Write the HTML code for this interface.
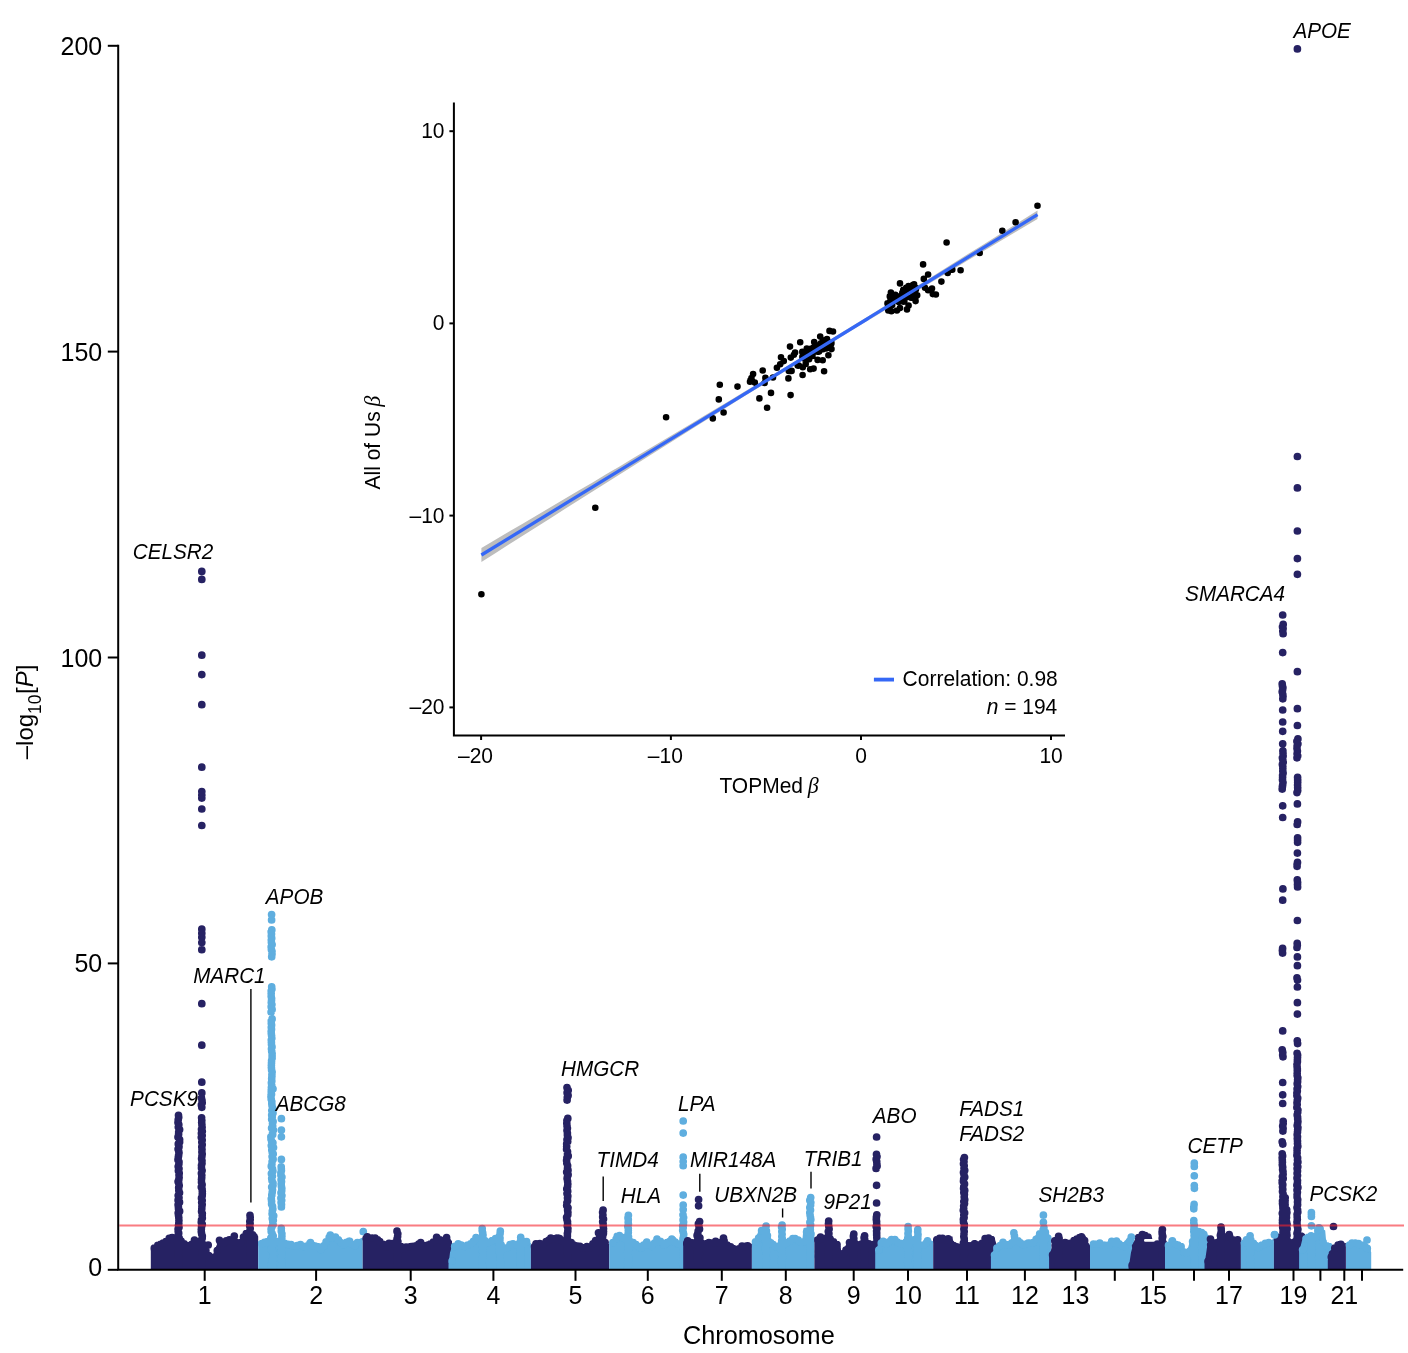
<!DOCTYPE html>
<html lang="en"><head><meta charset="utf-8"><title>Manhattan plot</title>
<style>html,body{margin:0;padding:0;background:#fff}svg{display:block}</style></head>
<body>
<svg width="1408" height="1353" viewBox="0 0 1408 1353" font-family="'Liberation Sans', Arial, Helvetica, sans-serif" fill="#000">
<rect width="1408" height="1353" fill="#fff"/>
<filter id="soft" filterUnits="userSpaceOnUse" x="0" y="0" width="1408" height="1353"><feGaussianBlur stdDeviation="0.4"/></filter>
<g filter="url(#soft)">
<clipPath id="mclip"><rect x="119" y="0" width="1289" height="1269.8"/></clipPath>
<g id="manhattan" clip-path="url(#mclip)">
<path fill="#272163" d="M150.8 1269.5L150.8 1249.7L157 1244L164.4 1240L172.4 1236.6L174.7 1236.4L183 1240.4L185.5 1242.9L191.1 1244L197 1243.4L206 1244.4L208.2 1250.8L212.2 1257.6L215.6 1247.4L219.5 1238.9L224.1 1241.2L229.8 1239.4L238.9 1242.9L241.7 1234.4L246.8 1233.2L253.6 1233.4L257 1233.8L258.2 1236.4L258.2 1269.5Z"/>
<path fill="none" stroke="#272163" stroke-width="7.7" stroke-linecap="round" d="M219.5 1240.3h0M229.8 1240.8h0M154.3 1248.2h0M157.8 1245.3h0M160.6 1244.3h0M163.1 1243h0M165.9 1241.6h0M169.2 1238.4h0M172.1 1237.7h0M174.4 1239.3h0M177.5 1240h0M181.1 1241.2h0M184.2 1243.8h0M187.3 1245.5h0M189.5 1245.9h0M191.8 1244.3h0M194.3 1244.6h0M197.3 1245.2h0M199.9 1246h0M203.3 1246.4h0M205.9 1250.7h0M208.8 1255.6h0M211.1 1258.5h0M213.7 1257.4h0M217.3 1250.7h0M220.4 1242.3h0M223.7 1243.2h0M226.3 1240.8h0M229.3 1239.9h0M232.1 1241.7h0M234.8 1241.7h0M238.2 1243h0M240.7 1242.5h0M243.5 1237.2h0M246.3 1233.7h0M249.3 1234.2h0M252.6 1234.8h0M178.5 1115.3h0M178.7 1117.2h0M178.2 1119.9h0M178 1122.4h0M178.8 1124.7h0M178.3 1127.1h0M179.6 1129.5h0M178.7 1132h0M178.6 1134.2h0M178 1137h0M179.6 1139.7h0M179.6 1142.1h0M178.3 1143.9h0M179 1146.7h0M178.1 1149h0M178.7 1151h0M179 1152.8h0M178.6 1155.4h0M178.3 1157.3h0M178 1159.7h0M179 1161.9h0M178.9 1163.8h0M178.2 1166.5h0M179 1168.7h0M178.4 1170.8h0M179.2 1173.2h0M179 1175.1h0M179.1 1177.5h0M178.8 1179.7h0M178.1 1181.6h0M178.8 1183.5h0M179.2 1185.5h0M178.7 1187.7h0M178.8 1190.4h0M179.5 1192.7h0M178.2 1195.5h0M179 1197.8h0M178.1 1200.2h0M179.5 1202.2h0M178.1 1204.8h0M178.4 1207h0M178.5 1208.8h0M179.6 1211.2h0M178.2 1213.1h0M178.5 1215.3h0M178.8 1217.8h0M178.9 1220.6h0M178.8 1223.3h0M178.5 1225.5h0M179 1227.3h0M178.1 1229.2h0M178.2 1231.3h0M178.7 1233.2h0M178.1 1235.3h0M179.2 1238.1h0M179.5 1240h0M178.1 1242.1h0M178.1 1244.4h0M179.5 1247.1h0M178.8 1248.9h0M179.1 1250.7h0M178 1252.9h0M178.1 1254.8h0M178.4 1256.7h0M178.5 1258.9h0M179.1 1261.6h0M178.7 1263.9h0M178.8 1266.2h0M178.5 1268.5h0M178 1270.4h0M201.8 571.4h0M201.8 579.4h0M201.8 655.2h0M201.8 674.6h0M201.8 704.7h0M201.8 767.2h0M201.8 791.5h0M201.8 795h0M201.8 798.1h0M201.8 809h0M201.8 825.5h0M201.8 929.2h0M201.8 933.2h0M201.8 937.2h0M201.8 942.5h0M201.8 949.7h0M201.8 1003.7h0M201.8 1045.2h0M201.8 1082.2h0M201.8 1092.9h0M201.4 1097.8h0M202 1100.4h0M202.2 1102.7h0M201.4 1104.9h0M201.8 1107.3h0M201.6 1117.8h0M201.8 1120.6h0M201.7 1122.6h0M201.9 1124.7h0M202.1 1127.3h0M201.5 1129.3h0M202.3 1131.3h0M201.4 1133.3h0M202.2 1135.5h0M201.3 1137.3h0M202.2 1140.1h0M201.8 1142h0M202.2 1144.7h0M201.8 1146.9h0M202 1149.4h0M201.9 1152h0M202.2 1154.1h0M201.9 1156.2h0M201.6 1158.7h0M202 1160.8h0M202 1163.2h0M201.5 1165.4h0M201.5 1168h0M202.1 1170.6h0M201.4 1173.3h0M201.8 1175.3h0M201.7 1177.7h0M201.5 1179.6h0M201.5 1182.2h0M202.1 1184.7h0M201.3 1187h0M202.1 1189.1h0M202.3 1191.4h0M202.3 1193.7h0M202.2 1195.7h0M201.5 1198.2h0M202.2 1200.4h0M201.7 1202.6h0M202.2 1204.6h0M201.9 1206.4h0M201.8 1208.8h0M201.6 1211.4h0M202.3 1213.6h0M202.2 1215.5h0M202.3 1218.1h0M201.5 1220h0M201.3 1222.2h0M202.3 1224.3h0M201.5 1227h0M201.3 1229.5h0M201.3 1231.8h0M201.7 1234h0M202.3 1236.1h0M202.2 1238.1h0M201.3 1240.3h0M202 1242.6h0M201.8 1245.4h0M202.2 1248.2h0M202 1250.5h0M202.2 1252.7h0M202 1255.1h0M201.7 1257.7h0M202.2 1260h0M201.4 1262.4h0M202.2 1264.7h0M202 1266.7h0M202.2 1269.5h0M250 1215.3h0M250.2 1217.3h0M250.2 1219.4h0M249.8 1221.6h0M250.1 1223.4h0M249.7 1225.7h0M250.2 1228.4h0M249.8 1231.2h0M249.8 1233.1h0M250.2 1235.8h0M250.5 1238.6h0M249.9 1240.8h0M250 1243.1h0M250.7 1245.8h0M250.2 1248.5h0M250.1 1250.4h0M249.9 1252.2h0M250.7 1254.7h0M249.8 1256.6h0M250 1258.4h0M249.9 1260.9h0M250.2 1263.2h0M250.6 1265.6h0M250.4 1268h0M250.6 1270.5h0M194.5 1240h0M208.2 1245h0M234.3 1236h0"/>
<path fill="#5eaedf" d="M258.2 1269.5L258.2 1241.2L260.5 1241.2L267.3 1239.4L276 1239.4L287.7 1242.9L290 1242.9L294.5 1245.7L300.2 1243.4L304.8 1245.7L310.5 1241.2L316.1 1245.1L320.7 1247.4L324.1 1241.2L330.3 1233.8L337.2 1237.2L343.4 1242.9L349.7 1240L353.6 1244.6L358.2 1239.4L362.7 1237.4L362.7 1269.5Z"/>
<path fill="none" stroke="#5eaedf" stroke-width="7.7" stroke-linecap="round" d="M300.2 1244.8h0M310.5 1242.6h0M330.3 1235.2h0M349.7 1241.4h0M261.8 1243.7h0M264.5 1242.4h0M267.6 1241.6h0M270.1 1242.2h0M273 1240.3h0M276 1241.6h0M279 1241.3h0M281.5 1243.9h0M284.6 1243.4h0M288.1 1244.3h0M291.1 1244.6h0M293.6 1246.1h0M297.1 1245.6h0M300.5 1244.5h0M303.7 1246.6h0M306.5 1246.1h0M309.9 1243.4h0M312.8 1245.6h0M315.2 1246.2h0M318.3 1246.8h0M320.6 1249.6h0M323.8 1245.9h0M326.1 1241.8h0M329.2 1237.4h0M332.1 1237.5h0M335.5 1237.1h0M338.4 1239.8h0M340.6 1242.6h0M343.7 1245h0M346.5 1242.4h0M349 1241.4h0M351.4 1244h0M355 1245.8h0M357.4 1242.5h0M271.6 914.6h0M271.6 919.9h0M271.8 929.9h0M271.2 931.7h0M271.5 933.9h0M271.3 936.1h0M271.7 938.2h0M271.3 940.1h0M271.4 942.3h0M272.1 944.5h0M271.2 946.9h0M271.4 949.5h0M272 951.3h0M272 954h0M271.7 956.8h0M271.7 986.9h0M271.9 989h0M271.2 991.1h0M271.2 993.6h0M271.2 996.3h0M271.6 998.5h0M271.5 1000.6h0M271.3 1002.6h0M271.9 1004.6h0M271.2 1006.7h0M272.1 1009.4h0M271.1 1012.1h0M272.1 1018.9h0M271.3 1020.9h0M271.3 1023.2h0M271.6 1025h0M271.3 1027.3h0M271.5 1029.2h0M271.2 1031.6h0M271.3 1033.5h0M271.6 1035.8h0M271.8 1038.3h0M271.3 1040.1h0M271.4 1042.2h0M271.5 1044.6h0M272 1046.9h0M271.5 1048.8h0M271.7 1051.2h0M272.1 1053.7h0M272.1 1055.9h0M272.1 1058.1h0M271.6 1060.7h0M271.5 1063.1h0M271.4 1065.4h0M271.4 1067.6h0M271.6 1069.9h0M272.1 1072h0M271.9 1074.5h0M271.9 1076.3h0M271.7 1078.7h0M271.8 1080.9h0M271.4 1082.8h0M271.7 1085h0M271.4 1087.5h0M271.3 1090.1h0M271.3 1092.6h0M271.1 1095.1h0M273 1088.8h0M271.3 1091.6h0M271.5 1094.3h0M271 1096.8h0M271.2 1099h0M271.8 1101.7h0M271.8 1103.7h0M272 1105.6h0M272.6 1108h0M271.8 1110.5h0M273 1113h0M271.7 1115h0M272.2 1116.9h0M271.7 1119.2h0M273.1 1121.5h0M272.5 1123.6h0M272.7 1126.1h0M271.6 1128.1h0M273.4 1130.1h0M272.6 1132.4h0M272.7 1134.4h0M270.9 1136.9h0M271 1138.9h0M271.5 1140.8h0M272.9 1142.8h0M271.3 1145.5h0M273.5 1147.6h0M271.8 1149.9h0M272.2 1152h0M273.2 1153.9h0M272.1 1156.5h0M273.1 1159.2h0M272.1 1161.7h0M271.9 1164.3h0M271.3 1166.2h0M272.5 1168.9h0M272.9 1171h0M271.4 1173.6h0M272.4 1176h0M271.7 1178.3h0M272 1180.6h0M273 1183h0M273 1185.3h0M271.7 1187.1h0M272.5 1189.8h0M272.2 1192.3h0M271.8 1194.9h0M271.3 1198.8h0M271.6 1201.3h0M271.6 1204h0M272.5 1206.3h0M272.8 1209h0M272.3 1211h0M272.1 1213.8h0M273.7 1215.8h0M272.3 1218.4h0M273.3 1220.3h0M272.8 1222.1h0M273.1 1224.5h0M271.8 1227h0M271.1 1229.2h0M271.2 1231.6h0M272.1 1233.5h0M273.2 1236.1h0M270.8 1238.2h0M271.5 1240.1h0M273.3 1241.9h0M272.5 1244.2h0M272.3 1246.3h0M271.5 1248.4h0M271.6 1250.3h0M272.7 1252.1h0M273.2 1254h0M272.9 1256.3h0M273.5 1258.5h0M272.1 1260.7h0M273.2 1262.8h0M271 1265h0M273.2 1267.3h0M272.6 1269.1h0M273 1271h0M281.4 1118.7h0M281.4 1130.1h0M281.4 1136.8h0M281.4 1159.4h0M281.2 1166.8h0M281.3 1168.7h0M281.4 1170.5h0M280.9 1172.9h0M280.9 1175h0M281.9 1177h0M281.1 1179.7h0M281.5 1181.6h0M281.2 1184.1h0M281.4 1186.3h0M281.8 1188.4h0M281.7 1190.7h0M281 1192.8h0M281.9 1195.5h0M280.9 1198h0M281.7 1200.3h0M281.1 1202.4h0M281.5 1204.6h0M281.4 1207h0M281.3 1228.3h0M281.3 1231h0M281.9 1233.8h0M281.9 1236.2h0M281.8 1238.5h0M281.3 1240.8h0M281.6 1243.6h0M281 1246.1h0M281.3 1248.8h0M281 1250.8h0M281.9 1253.4h0M281.7 1256h0M280.9 1258.6h0M281.8 1261.3h0M281.8 1264h0M281.1 1266.3h0M281.8 1268.5h0M281.7 1270.7h0M363.3 1231.7h0"/>
<path fill="#272163" d="M362.7 1269.5L362.7 1238.4L367.3 1235.4L375.2 1237.2L380.9 1241.2L385.5 1245.1L390 1241.2L394 1240.6L401.9 1246.3L409.3 1244.6L415 1245.1L420.7 1241.2L426.4 1245.1L430.9 1241.7L436.6 1236L441.1 1240L446.8 1236.6L448.5 1236.6L452 1241.2L452 1269.5Z"/>
<path fill="none" stroke="#272163" stroke-width="7.7" stroke-linecap="round" d="M367.3 1236.8h0M420.7 1242.6h0M436.6 1237.4h0M366.2 1238.3h0M368.6 1238.6h0M372.2 1238h0M375.1 1238.1h0M377.6 1239.8h0M379.8 1241.5h0M383.1 1244.4h0M385.8 1247.1h0M389 1243.4h0M392.5 1243.7h0M395.3 1244.4h0M398.3 1246h0M401 1246.6h0M403.7 1248.7h0M406.1 1247.1h0M408.6 1247h0M411.3 1246.5h0M413.8 1246.4h0M416.4 1245.9h0M418.7 1244h0M422.3 1245.1h0M425.5 1245.9h0M427.8 1245h0M430.2 1244h0M433.3 1242.1h0M436.9 1237.7h0M440 1239.9h0M443.4 1241.5h0M446.6 1237.7h0M397 1231.2h0M397.8 1233.8h0M397.6 1236.5h0M397 1239.2h0M397.9 1241.6h0M397.9 1244.1h0M397.5 1246.7h0M397.1 1248.6h0M397 1250.8h0M397.2 1252.9h0M397.6 1255.1h0M397.3 1257.4h0M397.5 1259.3h0M397.5 1261.2h0M397.1 1263.2h0M397.4 1265h0M397 1267.5h0M397.9 1269.4h0"/>
<path fill="#5eaedf" d="M448.5 1269.5L448.5 1264.4L450 1252.4L453.1 1242.9L458.2 1242.9L463.3 1245.1L468.4 1242.9L476.4 1236L478.6 1235.4L486.6 1240.4L487.7 1241.2L494.5 1238.3L496.8 1238.3L503 1244.4L505.3 1246.8L510.5 1243.4L517.3 1242.3L524 1241.4L526.4 1241.2L530.9 1242.9L530.9 1269.5Z"/>
<path fill="none" stroke="#5eaedf" stroke-width="7.7" stroke-linecap="round" d="M452.1 1261.1h0M454.7 1246.4h0M458.2 1243.9h0M461.3 1245.2h0M464.7 1246.3h0M467.6 1245h0M470.6 1243.8h0M473.4 1241.4h0M476 1237.7h0M479.2 1238h0M482.1 1239h0M484.8 1240.7h0M487.4 1242.7h0M489.7 1242h0M492.2 1240.7h0M495.5 1238.7h0M498.6 1241.7h0M501.1 1244.8h0M504.6 1248.3h0M507.1 1247.8h0M510 1244.7h0M513 1243.9h0M516.6 1244.7h0M520.2 1244.8h0M523.6 1242.4h0M526.6 1241.7h0M482.2 1228.6h0M482.2 1230.5h0M482.7 1232.9h0M483 1235h0M482.5 1237.2h0M483 1239.1h0M482.9 1241.1h0M482.6 1243.4h0M482.2 1245.8h0M483 1248.5h0M482.6 1251.1h0M482.9 1253h0M482.9 1255.1h0M482.6 1257.1h0M482.2 1259.8h0M482 1262.1h0M482.1 1264h0M483 1266.7h0M482.3 1269.2h0M500.3 1231.2h0M500.1 1233.4h0M499.5 1236h0M500 1238h0M499.9 1240h0M499.6 1242.3h0M499.7 1244.7h0M499.8 1247h0M499.5 1249.5h0M499.6 1251.9h0M500.1 1254.7h0M499.9 1257h0M500.2 1259.4h0M500.3 1262h0M500.5 1264.2h0M500.4 1266.9h0M499.9 1269.1h0M500.4 1271.5h0M520.7 1237.4h0M521.1 1239.7h0M520.2 1241.8h0M521.1 1244.3h0M520.8 1246.9h0M520.5 1249.4h0M520.2 1251.8h0M520.6 1253.7h0M520.6 1256h0M520.9 1257.9h0M520.4 1260.2h0M520.6 1262.3h0M520.2 1264.4h0M521.2 1267.1h0M521.1 1269.5h0"/>
<path fill="#272163" d="M530.9 1269.5L530.9 1247.4L532 1247.4L536 1242.3L542.3 1244L546.2 1239.4L550.8 1236.6L554.8 1238.3L559.3 1237.2L562.2 1239.4L573 1242.9L578.6 1245.1L584.3 1246.3L590 1245.1L594.5 1239.4L599 1238.4L607 1242.4L608.2 1244L609.3 1244L609.3 1269.5Z"/>
<path fill="none" stroke="#272163" stroke-width="7.7" stroke-linecap="round" d="M536 1243.8h0M550.8 1238h0M559.3 1238.6h0M599 1239.8h0M534.5 1246.6h0M537 1245.4h0M539.8 1243.7h0M543.2 1244h0M546.1 1241.7h0M548.5 1240.3h0M551.5 1238.7h0M553.7 1238.8h0M556.9 1238.1h0M559.6 1238.6h0M562.4 1241.2h0M565.8 1242.3h0M568.2 1244.2h0M571.2 1242.7h0M573.8 1245h0M577.3 1246h0M579.9 1246.3h0M583.4 1247.9h0M586.9 1246.7h0M589.5 1248.1h0M592.9 1243.9h0M595.6 1240.6h0M599 1239h0M601.5 1242.5h0M605.1 1242.5h0M567 1087.5h0M568.2 1090.3h0M567.1 1092.7h0M568.1 1095.4h0M567.3 1097.4h0M567.1 1100.1h0M567.8 1118.4h0M566.9 1120.7h0M566.8 1123.3h0M567 1125.8h0M567.4 1128.3h0M567 1130.4h0M567.4 1133h0M567.4 1135h0M568 1137.7h0M567 1139.7h0M567.7 1141.6h0M566.7 1143.9h0M566.7 1146.6h0M566.6 1149.3h0M567.5 1151.7h0M567.5 1153.9h0M568.2 1155.9h0M566.9 1157.9h0M566.6 1160.4h0M566.8 1163h0M567.6 1165.7h0M567.5 1168.4h0M568 1170.2h0M566.7 1172.1h0M568.1 1174.7h0M567.4 1176.8h0M567.1 1178.6h0M567.6 1181.3h0M567.8 1184h0M567.6 1186.4h0M566.8 1188.9h0M567.7 1191.2h0M567 1193.5h0M567.8 1196h0M567.5 1198.1h0M567.6 1200.8h0M566.9 1202.8h0M566.7 1205.6h0M568 1207.8h0M567.6 1210h0M567.9 1212.4h0M567.8 1214.7h0M566.6 1217.3h0M566.9 1219.2h0M567.5 1221.7h0M567.6 1224.2h0M567.3 1226.1h0M567.9 1228.6h0M567.8 1231.1h0M567.4 1233.7h0M567.4 1236.1h0M567 1238.3h0M567.7 1240.6h0M567.3 1243h0M567.3 1245.1h0M567.7 1247.6h0M566.8 1250.3h0M567.6 1252.9h0M567.8 1254.8h0M568.2 1257.2h0M567.3 1259h0M566.7 1261.3h0M567.4 1263.6h0M568.2 1266.4h0M567.7 1268.9h0M603.1 1210.2h0M602.6 1212.3h0M602.9 1215h0M602.7 1216.9h0M603.5 1219h0M602.7 1221.7h0M603.1 1223.7h0M603.3 1226.5h0M603.5 1228.8h0M603.5 1231.5h0M603.4 1233.5h0M602.7 1236.2h0M602.5 1238.4h0M602.7 1240.6h0M603.3 1243.2h0M602.9 1245.5h0M603.3 1247.9h0M603 1250.2h0M602.6 1252.6h0M603 1254.9h0M602.5 1257.1h0M603.5 1259.2h0M603 1261.6h0M603 1264.1h0M603.2 1266.5h0M602.6 1268.5h0M603.3 1270.4h0M598.5 1232.8h0"/>
<path fill="#5eaedf" d="M609.3 1269.5L609.3 1243.4L611 1242.9L617.3 1234.9L622.4 1236L624 1236.4L632 1240.4L635.5 1242.9L640 1246.8L646.8 1240.6L651.9 1244L657 1237.7L663.9 1242.9L671.8 1237.7L677.5 1242.9L683.2 1242.4L683.2 1269.5Z"/>
<path fill="none" stroke="#5eaedf" stroke-width="7.7" stroke-linecap="round" d="M617.3 1236.3h0M646.8 1242h0M657 1239.1h0M671.8 1239.1h0M612.9 1242.6h0M616.1 1239.2h0M619.5 1235.7h0M621.7 1237.3h0M625.1 1238.7h0M627.4 1239.9h0M630.1 1241.7h0M633.2 1242.7h0M636 1244.7h0M638.8 1246.7h0M641.3 1247.9h0M643.6 1245h0M646.3 1242.8h0M649.1 1245h0M651.5 1246.6h0M654.5 1243.1h0M657.7 1241.1h0M660.4 1241.4h0M663.8 1245.1h0M667 1242.6h0M669.4 1241.5h0M672.8 1240.1h0M675.2 1242.2h0M677.8 1243.8h0M628.4 1215.3h0M628 1217.9h0M628.3 1219.7h0M628.2 1222.3h0M628.4 1224.1h0M627.8 1226.5h0M628.3 1228.4h0M628.3 1230.6h0M628.3 1232.6h0M628 1234.6h0M628.5 1236.8h0M628.2 1238.9h0M628.5 1240.9h0M628.3 1243h0M628.2 1245.1h0M628.3 1247.4h0M628.3 1250.1h0M627.7 1252.4h0M627.8 1255.1h0M628.4 1257.8h0M628.5 1259.7h0M627.7 1262.4h0M628.4 1264.6h0M628.2 1266.7h0M627.5 1269.4h0M627.8 1271.2h0M683.2 1121h0M683.2 1133.1h0M683.2 1157.2h0M683.2 1161.5h0M683.2 1165.7h0M683.2 1195.1h0M683.2 1205h0M683.2 1209.4h0M683 1214.8h0M683.6 1217.5h0M683.1 1219.9h0M683.6 1222h0M683.4 1223.9h0M682.7 1225.9h0M683.2 1227.7h0M682.7 1230.2h0M683.2 1232h0M683.7 1234.3h0M683.5 1236.5h0M683 1238.9h0M683.2 1241.2h0M683.3 1243.1h0M682.9 1245.1h0M683.2 1247.1h0M683.7 1249.9h0M683.3 1251.7h0M683.5 1254.3h0M683.6 1256.2h0M683.4 1258.9h0M682.9 1261.5h0M682.7 1263.4h0M682.9 1266h0M682.8 1268.2h0M682.8 1270.2h0"/>
<path fill="#272163" d="M683.2 1269.5L683.2 1242.9L684.3 1242.9L687.7 1239.4L692.3 1241.2L694 1240.9L703 1241.4L707 1241.7L711.6 1242.9L715.6 1240L719.5 1241.7L723.5 1236.6L729.8 1246.3L735.5 1247.4L742.3 1244.6L749.1 1245.1L751.9 1243.4L751.9 1269.5Z"/>
<path fill="none" stroke="#272163" stroke-width="7.7" stroke-linecap="round" d="M687.7 1240.8h0M715.6 1241.4h0M723.5 1238h0M686.8 1243.2h0M689.6 1242.4h0M692.2 1242.9h0M694.8 1243.8h0M698 1242.9h0M700.5 1242.2h0M703.2 1244.3h0M705.7 1243.9h0M708.9 1242.5h0M712.5 1242.9h0M715.9 1241.6h0M718.3 1242.9h0M721.2 1242.4h0M724.1 1240.8h0M727.1 1245.2h0M730.6 1246.8h0M733.2 1248.7h0M736.2 1250h0M738.9 1248.8h0M742 1246.2h0M745.2 1246.3h0M747.7 1245.9h0M698.6 1199.5h0M698.6 1205.8h0M699.6 1221.5h0M698.4 1223.9h0M699 1226.4h0M699.5 1229.1h0M698.2 1231h0M697.8 1233.4h0M697.1 1235.4h0M699.9 1237.8h0M697.5 1240.6h0M698.4 1243.1h0M698.3 1245.5h0M700.1 1248.2h0M699.2 1250.1h0M697.2 1252h0M699.3 1254.1h0M697.5 1256.9h0M697.2 1259h0M698.5 1261.4h0M698 1263.5h0M699.6 1266.1h0M698.3 1268.2h0M699.4 1270.6h0"/>
<path fill="#5eaedf" d="M751.9 1269.5L751.9 1243.4L754.8 1241.2L758.2 1231.5L762.7 1229.2L770.7 1237.2L774.1 1244.6L777.5 1245.7L786 1242.4L787.7 1241.2L793.4 1237.2L799.1 1236.6L802 1242.9L803.6 1228.1L806.5 1227.4L814.4 1232.4L814.4 1269.5Z"/>
<path fill="none" stroke="#5eaedf" stroke-width="7.7" stroke-linecap="round" d="M762.7 1230.6h0M755.5 1241.8h0M758.6 1238.1h0M761.6 1230.7h0M764.4 1232.6h0M767.4 1235.6h0M770.8 1242.8h0M773.2 1244.6h0M776.6 1246.9h0M779.6 1245.8h0M782.2 1245.6h0M784.8 1243.8h0M787.1 1242.6h0M789.8 1241.2h0M792.8 1238.6h0M795.1 1238.5h0M798.2 1240.1h0M800.6 1242.1h0M803 1242.2h0M806.6 1232h0M809.5 1231.1h0M766.1 1226.1h0M765.7 1228.5h0M766.4 1230.9h0M765.7 1233h0M765.7 1235.1h0M766.1 1237.7h0M765.5 1240.4h0M766.5 1243.1h0M766.2 1245.4h0M765.5 1247.5h0M765.5 1249.8h0M766.4 1252.1h0M765.9 1254h0M765.7 1256.5h0M766.5 1258.6h0M765.8 1260.9h0M766.2 1263.2h0M766.3 1265.8h0M766 1268.5h0M765.9 1271.2h0M782.1 1225.2h0M781.6 1227.1h0M782.2 1229.2h0M781.8 1231.5h0M782.1 1234.3h0M781.8 1236.5h0M782.2 1238.4h0M781.7 1240.8h0M781.6 1242.8h0M781.6 1244.7h0M781.7 1246.8h0M781.6 1248.9h0M781.7 1251.1h0M781.9 1252.9h0M781.6 1254.8h0M782.4 1257.5h0M781.5 1260.1h0M781.5 1262h0M782.1 1264.4h0M782 1266.5h0M782 1269.3h0M810.7 1197.6h0M809.8 1200.3h0M810.8 1202.5h0M810.6 1205.1h0M809.8 1207.5h0M810.5 1210h0M809.8 1212.7h0M810.1 1215.1h0M810.5 1217.4h0M810.8 1219.6h0M809.9 1222.3h0M810.6 1224.8h0M810.3 1227.1h0M810.3 1229.7h0M810.3 1231.9h0M810.8 1233.7h0M810.2 1236.1h0M809.8 1238.1h0M810.1 1240h0M810.1 1242.3h0M810.4 1244.4h0M810.3 1246.4h0M809.8 1248.7h0M810.6 1251.5h0M809.9 1254.2h0M810.8 1256.2h0M809.9 1258.8h0M809.9 1260.7h0M810 1262.7h0M809.8 1264.7h0M810.3 1266.9h0M810 1269h0M810.2 1270.8h0"/>
<path fill="#272163" d="M814.4 1269.5L814.4 1237.2L816.1 1237.2L824.1 1236.6L832.6 1239.4L836.6 1240.6L840.6 1246.3L841.7 1254.2L844.5 1247.4L848 1241.2L850 1240.4L857.5 1242.4L859.3 1242.9L861 1242.4L868 1240.9L869.5 1241.2L875.2 1240.4L875.2 1269.5Z"/>
<path fill="none" stroke="#272163" stroke-width="7.7" stroke-linecap="round" d="M818 1239.9h0M820.5 1237.2h0M823.5 1238.4h0M826.9 1237.9h0M830.2 1239h0M833.5 1241.9h0M837 1244.7h0M840.4 1253.8h0M843.7 1253.6h0M846 1250h0M849.5 1242.6h0M852.9 1241.5h0M855.7 1244.2h0M858.4 1245.5h0M861.5 1244h0M863.8 1244.6h0M866.3 1244.1h0M868.9 1243.9h0M828.7 1221h0M828.5 1223.8h0M828.8 1226.5h0M829.1 1229.1h0M828.3 1231.6h0M828.9 1233.6h0M828.7 1235.5h0M828.4 1237.4h0M828.4 1239.4h0M828.4 1241.9h0M828.1 1243.7h0M828.8 1245.7h0M828.9 1248.4h0M828.1 1250.4h0M828.5 1252.4h0M828.4 1254.8h0M828.2 1256.8h0M828.6 1258.7h0M828.6 1260.9h0M828.2 1262.8h0M829.1 1265.5h0M828.8 1267.3h0M828.6 1269.4h0M828.5 1271.4h0M853.8 1234h0M853.4 1236.2h0M853.8 1238.6h0M853.8 1240.7h0M853.7 1242.5h0M853.5 1244.3h0M854 1246.7h0M853.4 1248.9h0M854 1250.8h0M853.2 1253.3h0M853.5 1255.8h0M853.9 1257.8h0M853.1 1259.6h0M853.8 1262h0M853.9 1264.8h0M853.8 1267.5h0M853.1 1269.4h0M853.6 1271.4h0M864.6 1235.8h0M864.1 1237.7h0M864.7 1239.5h0M864.1 1241.8h0M864 1244.1h0M864.9 1246h0M864.7 1248.4h0M864.4 1251.2h0M864.4 1253.5h0M864.4 1256.2h0M864.7 1258.1h0M864.9 1259.9h0M864.7 1262.4h0M864.6 1265.1h0M864.4 1267.8h0M864.3 1270.5h0M876.6 1137h0M876.6 1185.3h0M876.6 1203h0M876.5 1154.3h0M877 1156.5h0M876.2 1159.2h0M876.7 1161.4h0M876.9 1164.2h0M877.1 1166.1h0M876.1 1168.4h0M876.8 1214.8h0M876.4 1217.2h0M876.3 1219.3h0M876.6 1221.7h0M876.7 1224.5h0M876.2 1226.5h0M877 1228.4h0M876.6 1231h0M876.7 1233h0M876.7 1234.9h0M876.8 1237.7h0M877 1239.6h0M876.9 1241.6h0M876.9 1243.5h0M876.4 1245.7h0M876.5 1248.1h0M877.1 1250.4h0M876.9 1252.8h0M876.5 1255.4h0M876.3 1257.5h0M876.8 1259.8h0M877 1262h0M877.1 1264h0M876.2 1266.4h0M877.1 1269.2h0M876.7 1271.1h0"/>
<path fill="#5eaedf" d="M875.2 1269.5L875.2 1252.4L878 1244.4L883.2 1240L887.7 1241.2L892.3 1237.7L893.4 1237.7L899.1 1241.7L904.8 1241.2L913.9 1238.4L922.4 1245.1L927.5 1239.4L933.2 1241.2L933.2 1269.5Z"/>
<path fill="none" stroke="#5eaedf" stroke-width="7.7" stroke-linecap="round" d="M883.2 1241.4h0M913.9 1239.8h0M927.5 1240.8h0M878.8 1250h0M881.3 1243h0M883.6 1241.9h0M886.4 1243.7h0M889.2 1241.8h0M891.5 1239.7h0M894.9 1239.7h0M897.3 1242.2h0M900.3 1243.3h0M903.6 1244.1h0M906 1242.2h0M908.2 1241.6h0M911.1 1240.2h0M914 1240.8h0M916.9 1242h0M919.6 1245.2h0M923.2 1245h0M926.4 1242.8h0M908.1 1226.6h0M908.1 1229h0M908.3 1231.1h0M908 1233.5h0M908.2 1235.8h0M907.7 1238.4h0M907.9 1240.3h0M908.5 1242.4h0M908.6 1244.6h0M908 1246.8h0M907.7 1249.3h0M908.6 1252h0M908 1254.2h0M908.5 1256.8h0M907.7 1259.2h0M907.7 1261.8h0M908.3 1264.2h0M908.4 1267h0M908.7 1268.8h0M908.3 1271.3h0M917.8 1229.5h0M917.7 1231.8h0M918 1234.6h0M917.8 1236.4h0M917.8 1238.7h0M917.4 1240.8h0M917.1 1243.1h0M917.8 1245.2h0M917.1 1247.1h0M917.7 1249.7h0M917.1 1252.1h0M917.3 1254h0M917.6 1256.7h0M917.2 1259.5h0M917.5 1261.7h0M917.1 1264.3h0M917.5 1267h0M917.4 1268.8h0M917.7 1271h0"/>
<path fill="#272163" d="M933.2 1269.5L933.2 1242.4L934.9 1236.6L952.5 1236.6L953.6 1245.1L959.3 1245.1L969.5 1243.4L974.7 1242.3L979.8 1244L983.2 1237.7L987.7 1236.6L994 1236.6L996.8 1245.1L996.8 1269.5Z"/>
<path fill="none" stroke="#272163" stroke-width="7.7" stroke-linecap="round" d="M974.7 1243.8h0M936.8 1239.9h0M939.6 1238.3h0M942.5 1238.3h0M944.8 1239.5h0M948.2 1238.8h0M950.9 1243.9h0M953.6 1245.7h0M956.7 1246.8h0M959.7 1247.3h0M962.9 1246.3h0M965.9 1245.8h0M968.6 1245.8h0M971 1245.9h0M974.5 1243.8h0M976.9 1244.8h0M979.4 1245.3h0M982.1 1243.3h0M985.1 1238.7h0M988.6 1238h0M991.3 1239.5h0M964.4 1157.6h0M963.6 1159.5h0M964 1161.7h0M963.5 1163.8h0M964.2 1165.8h0M964 1168.3h0M964.7 1170.3h0M963.5 1172.4h0M964 1174.7h0M964.7 1177h0M963.7 1179.1h0M963.5 1181.2h0M964.5 1183.9h0M963.8 1186.5h0M963.6 1188.4h0M964.7 1190.4h0M963.8 1192.6h0M964.4 1194.5h0M964.2 1197.1h0M964.7 1199.7h0M963.8 1201.6h0M964.5 1203.6h0M963.7 1206.1h0M963.7 1208.4h0M963.3 1210.3h0M964.6 1212.9h0M963.8 1214.9h0M964.1 1217.5h0M963.4 1219.4h0M963.5 1222h0M964.3 1224.6h0M964.2 1227h0M963.9 1229.1h0M964.2 1231.6h0M964 1234h0M963.8 1236.5h0M964.2 1238.5h0M964.3 1240.6h0M963.4 1243.2h0M964.1 1245.6h0M964.3 1248.3h0M963.3 1250.4h0M964.6 1253.2h0M963.8 1255.1h0M963.5 1257.3h0M964.2 1260.1h0M963.9 1262h0M964.6 1263.9h0M964.7 1266.7h0M964.1 1269.4h0"/>
<path fill="#5eaedf" d="M990.9 1269.5L990.9 1257.4L994 1248.4L999.1 1244L1003.1 1241.2L1008.2 1245.1L1013.9 1231.5L1020.7 1241.7L1024.1 1244.6L1028.1 1241.7L1032 1242.9L1035.5 1234.9L1040 1231.5L1048 1231.5L1051.4 1240.6L1051.4 1269.5Z"/>
<path fill="none" stroke="#5eaedf" stroke-width="7.7" stroke-linecap="round" d="M1003.1 1242.6h0M1013.9 1232.9h0M1028.1 1243.1h0M994.5 1255h0M996.9 1248.1h0M1000.1 1245.6h0M1003 1242.3h0M1006.4 1244.7h0M1009.2 1245h0M1011.7 1243h0M1014.5 1236.2h0M1018.1 1240.8h0M1020.4 1242.8h0M1022.9 1244.6h0M1026.1 1244.2h0M1029.7 1243.1h0M1033.1 1242.7h0M1036.1 1239.3h0M1039.7 1233.9h0M1042.8 1233.7h0M1045.4 1232.4h0M1047.8 1238.1h0M1043.4 1215.2h0M1043.4 1222.3h0M1043.9 1227.8h0M1043.2 1229.8h0M1043.9 1231.9h0M1043 1234.1h0M1043.5 1236.1h0M1043.7 1238.7h0M1042.9 1241.2h0M1043.9 1243.3h0M1043.3 1245.4h0M1043.2 1247.4h0M1043.3 1249.4h0M1043.1 1252.1h0M1043.3 1254h0M1043.4 1256.5h0M1043.6 1258.6h0M1043.3 1261.4h0M1043.1 1263.4h0M1043.1 1265.6h0M1043.1 1268.3h0M1043.5 1270.8h0"/>
<path fill="#272163" d="M1049.1 1269.5L1049.1 1257.4L1051.4 1248.5L1054.8 1239.4L1062.5 1240.4L1064.4 1242.3L1070.7 1240.6L1076.4 1238.9L1081.5 1235.5L1086.6 1240.6L1090 1245.1L1090 1269.5Z"/>
<path fill="none" stroke="#272163" stroke-width="7.7" stroke-linecap="round" d="M1054.8 1240.8h0M1081.5 1236.9h0M1052.6 1254.9h0M1055.2 1245.5h0M1057.7 1240.7h0M1060 1242.3h0M1062.6 1243.4h0M1065.1 1242.5h0M1068.4 1243.5h0M1070.7 1243.4h0M1074 1240.6h0M1076.8 1239.1h0M1079.6 1237.7h0M1082.3 1238.1h0M1084.6 1240.7h0M1058.6 1236.3h0M1059.1 1238.3h0M1058.6 1240.9h0M1058.6 1243.5h0M1058.9 1245.5h0M1058.7 1248.1h0M1058.2 1250.7h0M1058.6 1253h0M1059.2 1254.9h0M1058.4 1256.8h0M1059.3 1259.5h0M1058.6 1262.2h0M1058.4 1265h0M1059.2 1267.5h0M1058.3 1269.5h0"/>
<path fill="#5eaedf" d="M1090 1269.5L1090 1244.4L1093.4 1241.2L1099.1 1241.2L1105.3 1245.1L1110.5 1241.2L1117.3 1240.6L1124.1 1244.6L1127.5 1242.9L1131.5 1235.5L1134 1240.4L1134 1269.5Z"/>
<path fill="none" stroke="#5eaedf" stroke-width="7.7" stroke-linecap="round" d="M1093.5 1244h0M1097 1244h0M1099.8 1243.1h0M1103 1245.1h0M1105.4 1245.3h0M1109 1245.1h0M1111.7 1241.4h0M1114.1 1242.3h0M1116.5 1241h0M1119.1 1243.9h0M1122.1 1245.7h0M1124.9 1246.5h0M1127.5 1243.5h0M1129.8 1242.3h0"/>
<path fill="#272163" d="M1128.6 1269.5L1128.6 1268.4L1131 1252.4L1134.3 1240.6L1138.9 1234.9L1142.3 1233.2L1148 1234.9L1151.9 1237.2L1153.6 1244L1158.2 1242.9L1159 1242.4L1165.9 1243.4L1167.3 1245.7L1167.3 1269.5Z"/>
<path fill="none" stroke="#272163" stroke-width="7.7" stroke-linecap="round" d="M1142.3 1234.6h0M1132.1 1265.4h0M1135.7 1245.7h0M1138.6 1237.7h0M1142.2 1236.1h0M1145.2 1235.5h0M1148 1237.2h0M1150.9 1242.8h0M1154.5 1245.5h0M1157.3 1244.1h0M1159.7 1244.3h0M1163.3 1243.4h0M1162.4 1229.5h0M1162.1 1231.9h0M1162.2 1233.7h0M1162.8 1236.4h0M1162.2 1238.2h0M1162.4 1240.9h0M1161.8 1242.8h0M1161.9 1245h0M1162.1 1247.7h0M1162.4 1250.4h0M1162 1252.9h0M1161.9 1255.4h0M1162.4 1257.3h0M1162.2 1259.8h0M1162 1262.1h0M1162.3 1264.9h0M1162.4 1267.4h0M1162.5 1270.1h0"/>
<path fill="#5eaedf" d="M1165 1269.5L1165 1247.4L1168.4 1242.9L1172.4 1239.4L1177.5 1242.9L1182 1243.4L1186.6 1253.1L1189.4 1242.9L1198.2 1228.4L1200.2 1228.1L1204.8 1233.8L1208.8 1234.9L1210 1242.4L1210 1269.5Z"/>
<path fill="none" stroke="#5eaedf" stroke-width="7.7" stroke-linecap="round" d="M1172.4 1240.8h0M1168.5 1245.4h0M1172.1 1241.1h0M1175.4 1244.3h0M1178 1245.2h0M1181.1 1246.7h0M1184.2 1252.2h0M1186.8 1252.7h0M1189.9 1251.2h0M1192.6 1241.6h0M1195 1237.4h0M1198.5 1231.7h0M1201.6 1232.6h0M1203.8 1234.3h0M1194.3 1163.2h0M1194.3 1166.4h0M1194.3 1175.8h0M1194.3 1185.6h0M1194.4 1188.3h0M1194.1 1204.4h0M1193.8 1206.9h0M1193.8 1208.8h0M1193.8 1220.6h0M1193.8 1222.7h0M1194.2 1225.1h0M1194 1227h0M1193.9 1229.4h0M1193.8 1231.5h0M1194.7 1233.4h0M1194.1 1235.4h0M1194.3 1237.8h0M1194.5 1240.6h0M1194.2 1243h0M1194.5 1245.1h0M1194 1247.1h0M1194.1 1249.6h0M1194.7 1251.7h0M1194.3 1253.6h0M1193.8 1256.1h0M1194.8 1258.7h0M1194.3 1261.2h0M1194.5 1263.6h0M1194.8 1265.8h0M1194.8 1268.5h0M1194 1270.5h0"/>
<path fill="#272163" d="M1204.5 1269.5L1204.5 1264.4L1207 1247.4L1210.5 1237.7L1215 1242.9L1217 1240.4L1224.7 1236.4L1229.2 1233.2L1233.8 1239.4L1237.7 1238.3L1240.9 1242.9L1240.9 1269.5Z"/>
<path fill="none" stroke="#272163" stroke-width="7.7" stroke-linecap="round" d="M1210.5 1239.1h0M1229.2 1234.6h0M1237.7 1239.8h0M1208 1261.3h0M1210.7 1244.8h0M1213.7 1242.9h0M1217.3 1242.5h0M1220.4 1241.5h0M1223.6 1237.6h0M1226.5 1236.9h0M1229.7 1236.7h0M1232.7 1239.8h0M1235.8 1240.6h0M1221 1227.2h0M1221.2 1229.1h0M1221.3 1231.4h0M1220.9 1233.4h0M1220.4 1235.3h0M1220.8 1237.6h0M1220.3 1240.1h0M1221.1 1242.1h0M1220.6 1244h0M1220.3 1245.9h0M1220.9 1248.2h0M1220.8 1250.3h0M1220.4 1252.2h0M1221.3 1254.2h0M1220.4 1256.1h0M1220.3 1258.6h0M1220.8 1261.1h0M1221.3 1263.2h0M1220.7 1265.4h0M1220.6 1267.6h0M1220.6 1270.3h0"/>
<path fill="#5eaedf" d="M1240.9 1269.5L1240.9 1242.4L1243.4 1241.2L1246.5 1238.4L1254 1240.4L1255.9 1244L1259.3 1246.3L1262.7 1241.2L1269.5 1241.2L1273.9 1238.4L1273.9 1269.5Z"/>
<path fill="none" stroke="#5eaedf" stroke-width="7.7" stroke-linecap="round" d="M1246.5 1239.8h0M1244.5 1243.1h0M1247.4 1239.6h0M1250.2 1240.3h0M1253.5 1243.3h0M1255.8 1245.6h0M1258.7 1247.6h0M1262 1245.2h0M1265.3 1243.4h0M1268.8 1242.6h0M1250.1 1235.8h0M1249.7 1237.7h0M1250.7 1239.6h0M1249.9 1242.1h0M1250.5 1244.8h0M1250.7 1247.2h0M1250.5 1249.3h0M1249.7 1251.1h0M1250.7 1253h0M1249.9 1255.7h0M1250.6 1257.8h0M1249.7 1260.1h0M1250.3 1262.4h0M1250.7 1265.1h0M1250.5 1267.4h0M1250.5 1269.4h0M1250.6 1271.5h0M1274.7 1234.5h0"/>
<path fill="#272163" d="M1273.9 1269.5L1273.9 1242.4L1275 1237.4L1277.5 1236L1290.6 1238.4L1291 1242.9L1292.5 1242.9L1293.2 1238.4L1301.9 1233.4L1304.8 1233.8L1306 1242.4L1306 1269.5Z"/>
<path fill="none" stroke="#272163" stroke-width="7.7" stroke-linecap="round" d="M1277.5 1237.4h0M1277.5 1239.7h0M1280.6 1237.5h0M1283.2 1239.3h0M1286.1 1237.9h0M1288.8 1242.2h0M1291.5 1244.6h0M1294.6 1242.2h0M1298.1 1238.4h0M1301 1236.2h0M1282.7 615h0M1282.7 652.6h0M1282.7 710h0M1282.7 722h0M1282.7 731.3h0M1282.7 743.8h0M1282.7 805.8h0M1282.7 817.5h0M1282.7 900.2h0M1282.7 1030.9h0M1282.7 1082.5h0M1283.2 624.4h0M1282.5 626.8h0M1283.1 628.6h0M1282.8 631.1h0M1283.1 633.7h0M1282.2 683.9h0M1282.4 685.7h0M1282.9 687.7h0M1282.6 689.8h0M1282.2 691.8h0M1282.8 694.4h0M1283 696.3h0M1282.8 698.8h0M1282.9 750.9h0M1283 753.2h0M1283.1 755.9h0M1282.4 757.8h0M1282.8 759.8h0M1283.2 762.2h0M1282.4 764.4h0M1282.8 766.5h0M1282.8 768.4h0M1282.8 771h0M1283.1 773.1h0M1282.6 775.3h0M1282.6 777.2h0M1282.5 779.8h0M1283 782.6h0M1282.7 784.8h0M1282.4 786.7h0M1282.2 789.1h0M1282.9 888.9h0M1282.6 948.4h0M1282.4 950.6h0M1282.6 953.1h0M1282.2 1049.8h0M1282.8 1052.4h0M1282.7 1055h0M1283 1056.8h0M1282.7 1094.8h0M1282.7 1103.5h0M1283.2 1121.3h0M1283.2 1123.5h0M1282.7 1126.1h0M1283.1 1128.4h0M1282.9 1131.1h0M1282.2 1141.8h0M1282.8 1144.1h0M1282.2 1153.8h0M1282.6 1155.9h0M1282.2 1157.8h0M1282.3 1160.1h0M1282.4 1162.3h0M1282.3 1164.8h0M1282.7 1167.2h0M1282.6 1169.5h0M1283 1171.7h0M1283.1 1174.2h0M1282.4 1176.6h0M1283.2 1178.4h0M1282.2 1180.8h0M1282.2 1182.8h0M1282.8 1184.7h0M1282.5 1187.1h0M1282.8 1189.3h0M1282.5 1191.4h0M1283.1 1194h0M1282.9 1196.7h0M1283.2 1198.5h0M1282.5 1201.1h0M1282.5 1203.4h0M1282.8 1205.8h0M1282.9 1207.9h0M1283 1210.6h0M1282.3 1213.3h0M1282.8 1215.3h0M1282.7 1217.8h0M1282.5 1220.2h0M1282.5 1222.8h0M1282.7 1225.5h0M1282.7 1227.3h0M1283.1 1229.8h0M1283 1232.3h0M1283.2 1234.8h0M1282.5 1236.6h0M1283 1239h0M1282.7 1241.3h0M1283 1243.5h0M1283.1 1245.7h0M1282.8 1248.1h0M1282.3 1250h0M1282.2 1252.5h0M1282.4 1255.1h0M1282.4 1256.9h0M1283.2 1258.7h0M1282.2 1260.8h0M1282.6 1262.9h0M1282.3 1264.9h0M1282.3 1266.9h0M1282.4 1269.4h0M1285.2 1197.8h0M1285.1 1200.5h0M1285 1202.8h0M1285.1 1204.8h0M1284.5 1207h0M1286.7 1209.8h0M1286.9 1212.6h0M1286.4 1215.3h0M1286.5 1217.4h0M1286.1 1219.8h0M1286.6 1222.1h0M1287.1 1224.3h0M1286.6 1226.6h0M1287.1 1228.8h0M1286.6 1230.7h0M1286.7 1232.7h0M1287 1235.2h0M1286.2 1237.2h0M1286.4 1239.5h0M1286.7 1241.7h0M1286.4 1243.6h0M1287.1 1245.7h0M1286.2 1248h0M1286.9 1250.7h0M1286.9 1253.2h0M1287.1 1255.5h0M1286.7 1258.2h0M1286.1 1260.5h0M1286.1 1263h0M1286.3 1265.6h0M1287.1 1267.9h0M1286.9 1270.3h0M1297.4 48.9h0M1297.4 456.5h0M1297.4 487.9h0M1297.4 531h0M1297.4 558.6h0M1297.4 574.3h0M1297.4 671.7h0M1297.4 708.7h0M1297.4 725.5h0M1297.4 803.9h0M1297.4 853.1h0M1297.4 920.5h0M1297.4 956.9h0M1297.4 965.7h0M1297.4 987h0M1297.4 1002.7h0M1297.4 1014.1h0M1297.9 738.9h0M1296.9 741.3h0M1297.9 743.8h0M1297.1 746.2h0M1297 748.3h0M1297.4 751h0M1297.1 753.8h0M1297.7 755.8h0M1297 757.8h0M1297.6 777.4h0M1297.7 779.9h0M1297.7 782.3h0M1297.6 785h0M1297.7 787.8h0M1297.7 790.5h0M1297 792.6h0M1297.6 821.9h0M1297.2 824.5h0M1297.6 837.9h0M1297.6 840h0M1297.6 842.3h0M1297.5 862.4h0M1297.1 864.4h0M1297.1 866.3h0M1297.3 879.9h0M1297.6 882.6h0M1297.5 884.5h0M1297.6 887h0M1297.2 943.4h0M1297.3 945.2h0M1297 947.5h0M1297 977.9h0M1297.5 980h0M1297.3 1040.8h0M1297.6 1043.6h0M1297.1 1053.3h0M1297.6 1055.2h0M1297.5 1057.6h0M1297.4 1059.9h0M1297.4 1061.7h0M1297 1064.5h0M1297.1 1066.6h0M1297.3 1068.9h0M1297.3 1070.8h0M1297.2 1073.5h0M1297.2 1075.4h0M1297.8 1077.8h0M1297.6 1079.8h0M1297.6 1081.8h0M1297.2 1083.7h0M1297.7 1086.5h0M1297.1 1088.9h0M1297.3 1090.9h0M1296.9 1093.1h0M1296.9 1095.4h0M1297.7 1098.1h0M1297.3 1100.3h0M1297 1102.8h0M1297.2 1104.6h0M1296.9 1107.4h0M1297.9 1110h0M1297.7 1112.2h0M1297.2 1114.9h0M1297.6 1117h0M1297.7 1118.9h0M1297.9 1121.6h0M1297.6 1123.5h0M1297.2 1125.6h0M1297.9 1127.6h0M1297.7 1129.5h0M1297.5 1132h0M1297.2 1134.7h0M1297.5 1136.7h0M1297.3 1138.6h0M1297.5 1141.1h0M1297.5 1143.6h0M1297.8 1146.3h0M1297.1 1148.3h0M1297.1 1150.6h0M1297.1 1153h0M1296.9 1155.3h0M1297.6 1157.9h0M1297.5 1160.1h0M1297.9 1162.1h0M1297.1 1164.3h0M1297.8 1166.8h0M1297.1 1168.6h0M1297.5 1170.9h0M1297.1 1173.3h0M1297.5 1175.4h0M1297 1178h0M1297.5 1180.5h0M1297.4 1182.9h0M1296.9 1185.2h0M1297.9 1187.4h0M1297 1190h0M1297.4 1192.3h0M1297.1 1194.8h0M1297.1 1197.1h0M1297.7 1199.7h0M1297.5 1202h0M1297.6 1204.7h0M1297 1207.5h0M1297.6 1209.9h0M1297.8 1212.1h0M1297.1 1214.4h0M1297.2 1216.9h0M1297.3 1219.4h0M1297 1222.1h0M1297.1 1224.6h0M1297.4 1226.6h0M1297.9 1229.3h0M1297.6 1231.1h0M1297 1233.4h0M1297.8 1235.8h0M1297.2 1237.7h0M1297.6 1239.6h0M1297.9 1242.3h0M1297.6 1244.5h0M1297.3 1246.6h0M1297.1 1249.1h0M1297.4 1250.9h0M1297.3 1253h0M1297.3 1255.1h0M1297.3 1257.1h0M1297.4 1259.8h0M1297 1262.5h0M1297.4 1264.6h0M1297.3 1266.7h0M1297.9 1268.6h0M1296.9 1271.2h0"/>
<path fill="#5eaedf" d="M1299.1 1269.5L1299.1 1252.4L1302 1240.4L1304.8 1237.7L1308.2 1236L1313.3 1237.2L1315 1229.4L1319 1226.4L1325.2 1230.4L1326.4 1244L1332 1245.7L1334.9 1247.4L1334.9 1269.5Z"/>
<path fill="none" stroke="#5eaedf" stroke-width="7.7" stroke-linecap="round" d="M1308.2 1237.4h0M1319 1227.8h0M1302.6 1249.8h0M1306 1238.9h0M1309.5 1239.2h0M1312.4 1238.7h0M1315.6 1236.5h0M1317.9 1230.2h0M1320.1 1228.9h0M1323.1 1242.2h0M1326.6 1245.8h0M1329 1246.5h0M1311.4 1214h0M1311.4 1216.5h0M1311.4 1212.5h0M1311.4 1225.8h0M1311.1 1235.8h0M1311.6 1237.8h0M1311.3 1239.9h0M1311.7 1242.6h0M1311 1244.4h0M1311 1246.4h0M1311.8 1248.3h0M1311.5 1250.8h0M1311.2 1252.8h0M1311.9 1254.8h0M1310.9 1256.8h0M1311.3 1259.3h0M1311.5 1261.2h0M1311.2 1264h0M1311.9 1266.2h0M1311.8 1268.8h0M1311 1271.5h0"/>
<path fill="#272163" d="M1327.8 1269.5L1327.8 1260.4L1328.9 1251.8L1334 1247.5L1337.4 1243.7L1345.9 1242.9L1345.9 1269.5Z"/>
<path fill="none" stroke="#272163" stroke-width="7.7" stroke-linecap="round" d="M1331.3 1257.1h0M1334.8 1248.1h0M1338.1 1245h0M1340.9 1244.3h0M1333.5 1226.5h0"/>
<path fill="#5eaedf" d="M1346 1269.5L1346 1242.9L1355 1242.6L1364 1242.9L1368 1243.9L1370 1247.4L1371.2 1252.4L1371.2 1269.5Z"/>
<path fill="none" stroke="#5eaedf" stroke-width="7.7" stroke-linecap="round" d="M1349.5 1245h0M1352 1243h0M1355.2 1243h0M1358.6 1243.7h0M1361 1245h0M1363.9 1245.1h0M1367.3 1248.4h0M1367 1240h0"/>
<circle cx="1131.3" cy="1237.2" r="3.9" fill="#5eaedf"/>
<circle cx="1274.5" cy="1234.8" r="3.9" fill="#5eaedf"/>
<circle cx="1129.5" cy="1241.5" r="3.9" fill="#5eaedf"/>
</g>
<path d="M1145.3 1240.4H1153.5" stroke="#fff" stroke-width="2.6" stroke-linecap="round"/>
<line x1="119.3" x2="1404" y1="1225.6" y2="1225.6" stroke="rgb(245,35,45)" stroke-opacity="0.6" stroke-width="2"/>
<g stroke="#000" stroke-width="2" fill="none">
<path d="M118.2 44.8V1269.8H1403.2"/>
<path d="M107.8 45.8H118.2"/>
<path d="M107.8 351.6H118.2"/>
<path d="M107.8 657.5H118.2"/>
<path d="M107.8 963.4H118.2"/>
<path d="M107.8 1269.8H118.2"/>
<path d="M204.7 1269.8V1280.8"/>
<path d="M316.1 1269.8V1280.8"/>
<path d="M410.7 1269.8V1280.8"/>
<path d="M493.4 1269.8V1280.8"/>
<path d="M575.5 1269.8V1280.8"/>
<path d="M647.8 1269.8V1280.8"/>
<path d="M721.8 1269.8V1280.8"/>
<path d="M785.8 1269.8V1280.8"/>
<path d="M853.7 1269.8V1280.8"/>
<path d="M908 1269.8V1280.8"/>
<path d="M967 1269.8V1280.8"/>
<path d="M1024.9 1269.8V1280.8"/>
<path d="M1075.5 1269.8V1280.8"/>
<path d="M1114.8 1269.8V1280.8"/>
<path d="M1153.1 1269.8V1280.8"/>
<path d="M1194 1269.8V1280.8"/>
<path d="M1229 1269.8V1280.8"/>
<path d="M1293.5 1269.8V1280.8"/>
<path d="M1320.4 1269.8V1280.8"/>
<path d="M1344.3 1269.8V1280.8"/>
<path d="M1362 1269.8V1280.8"/>
</g>
<g font-size="25" text-anchor="middle">
<text transform="translate(204.7 1303.9) scale(1 1.045)">1</text>
<text transform="translate(316.1 1303.9) scale(1 1.045)">2</text>
<text transform="translate(410.7 1303.9) scale(1 1.045)">3</text>
<text transform="translate(493.4 1303.9) scale(1 1.045)">4</text>
<text transform="translate(575.5 1303.9) scale(1 1.045)">5</text>
<text transform="translate(647.8 1303.9) scale(1 1.045)">6</text>
<text transform="translate(721.8 1303.9) scale(1 1.045)">7</text>
<text transform="translate(785.8 1303.9) scale(1 1.045)">8</text>
<text transform="translate(853.7 1303.9) scale(1 1.045)">9</text>
<text transform="translate(908 1303.9) scale(1 1.045)">10</text>
<text transform="translate(967 1303.9) scale(1 1.045)">11</text>
<text transform="translate(1024.9 1303.9) scale(1 1.045)">12</text>
<text transform="translate(1075.5 1303.9) scale(1 1.045)">13</text>
<text transform="translate(1153.1 1303.9) scale(1 1.045)">15</text>
<text transform="translate(1229 1303.9) scale(1 1.045)">17</text>
<text transform="translate(1293.5 1303.9) scale(1 1.045)">19</text>
<text transform="translate(1344.3 1303.9) scale(1 1.045)">21</text>
</g>
<g font-size="25" text-anchor="end">
<text transform="translate(102.2 54.8) scale(1 1.045)">200</text>
<text transform="translate(102.2 360.6) scale(1 1.045)">150</text>
<text transform="translate(102.2 666.5) scale(1 1.045)">100</text>
<text transform="translate(102.2 972.4) scale(1 1.045)">50</text>
<text transform="translate(102.2 1276.3) scale(1 1.045)">0</text>
</g>
<text font-size="25.3" text-anchor="middle" x="758.8" y="1344">Chromosome</text>
<text font-size="24" text-anchor="middle" transform="translate(32.7 711.9) rotate(-90) scale(1 1.02)">–log<tspan font-size="17.3" dy="8.5">10</tspan><tspan dy="-8.5" dx="0.8">[</tspan><tspan font-style="italic">P</tspan>]</text>
<g font-size="20.7" font-style="italic">
<text transform="translate(132.8 558.9) scale(1 1.055)">CELSR2</text>
<text transform="translate(265.8 903.7) scale(1 1.055)">APOB</text>
<text transform="translate(193.2 982.7) scale(1 1.055)">MARC1</text>
<text transform="translate(130.1 1105.7) scale(1 1.055)">PCSK9</text>
<text transform="translate(275.7 1110.5) scale(1 1.055)">ABCG8</text>
<text transform="translate(561 1076.1) scale(1 1.055)">HMGCR</text>
<text transform="translate(678.1 1110.9) scale(1 1.055)">LPA</text>
<text transform="translate(596.6 1167.3) scale(1 1.055)">TIMD4</text>
<text transform="translate(620.8 1202.7) scale(1 1.055)">HLA</text>
<text transform="translate(690 1167.3) scale(1 1.055)">MIR148A</text>
<text transform="translate(714.2 1202.2) scale(1 1.055)">UBXN2B</text>
<text transform="translate(803.8 1166.3) scale(1 1.055)">TRIB1</text>
<text transform="translate(823.5 1209.1) scale(1 1.055)">9P21</text>
<text transform="translate(872.8 1123) scale(1 1.055)">ABO</text>
<text transform="translate(959.2 1115.8) scale(1 1.055)">FADS1</text>
<text transform="translate(959.2 1140.8) scale(1 1.055)">FADS2</text>
<text transform="translate(1038.4 1202.2) scale(1 1.055)">SH2B3</text>
<text transform="translate(1187.6 1153.3) scale(1 1.055)">CETP</text>
<text transform="translate(1309.5 1200.8) scale(1 1.055)">PCSK2</text>
<text transform="translate(1185.1 600.5) scale(1 1.055)">SMARCA4</text>
<text transform="translate(1293.4 37.6) scale(1 1.055)">APOE</text>
</g>
<g stroke="#000" stroke-width="1.4">
<path d="M250.9 989.1V1202.5"/>
<path d="M603.2 1176.4V1200.9"/>
<path d="M699.8 1173.8V1191.7"/>
<path d="M782.6 1208.4V1217.5"/>
<path d="M811 1171.7V1188.5"/>
</g>
<g id="inset">
<path fill="#bdbdbd" d="M481.4 548L495.3 539.8L509.2 531.6L523.1 523.4L537 515.2L550.9 507L564.8 498.8L578.7 490.6L592.6 482.4L606.5 474.1L620.4 465.9L634.3 457.6L648.2 449.3L662.1 441.1L676 432.8L689.9 424.5L703.8 416.1L717.7 407.8L731.6 399.5L745.5 391.1L759.5 382.7L773.4 374.3L787.3 365.9L801.2 357.4L815.1 348.9L829 340.4L842.9 331.8L856.8 323.3L870.7 314.7L884.6 306.1L898.5 297.5L912.4 288.8L926.3 280.2L940.2 271.5L954.1 262.8L968 254.1L981.9 245.4L995.8 236.7L1009.7 227.9L1023.6 219.2L1037.5 210.4L1037.5 219L1023.6 227.2L1009.7 235.5L995.8 243.8L981.9 252L968 260.3L954.1 268.7L940.2 277L926.3 285.3L912.4 293.7L898.5 302.1L884.6 310.5L870.7 318.9L856.8 327.3L842.9 335.8L829 344.2L815.1 352.7L801.2 361.2L787.3 369.8L773.4 378.4L759.5 387L745.5 395.6L731.6 404.3L717.7 412.9L703.8 421.6L689.9 430.3L676 439L662.1 447.8L648.2 456.5L634.3 465.2L620.4 474L606.5 482.7L592.6 491.5L578.7 500.3L564.8 509.1L550.9 517.9L537 526.7L523.1 535.5L509.2 544.3L495.3 553.2L481.4 562Z"/>
<path fill="none" stroke="#000" stroke-width="6.6" stroke-linecap="round" d="M1037.5 205.8h0M1015.6 222.2h0M1002.3 230.8h0M946.6 242.5h0M979.7 253h0M960.6 270.3h0M952.3 269.8h0M947.7 273h0M941.4 281.6h0M923.1 264.4h0M928.1 274.5h0M923.8 278.9h0M900 283.4h0M925 287.8h0M928.1 290.2h0M932 288.6h0M932.8 294.1h0M935.9 294.5h0M909.4 286.2h0M906.2 287.8h0M912.5 287.8h0M890.9 292.5h0M889.8 296.4h0M895.3 294.8h0M903.1 291.7h0M917.2 295.3h0M915.6 301.1h0M887.5 303.4h0M908.6 305.5h0M907 309.4h0M900 308.1h0M896.9 310.5h0M891.4 311.2h0M888.3 310.5h0M481.4 594.2h0M595.3 507.7h0M666.1 417.2h0M712.8 418.4h0M718.8 399.4h0M719.8 384.7h0M723.6 412.5h0M737.5 386.6h0M753.1 374h0M750.5 380.2h0M751.5 378h0M754.8 382.6h0M750 381.8h0M762.7 370.5h0M765.4 377.9h0M764.6 383h0M773 377.5h0M771 392.9h0M759.4 398.4h0M767.1 407.8h0M790.6 395.1h0M788.4 378.4h0M776.9 367.7h0M781 357.2h0M783.8 361.1h0M780.2 364.2h0M790 346.6h0M790.8 357.6h0M793.9 354.8h0M795.1 352.5h0M788.8 370.9h0M791.6 370.9h0M798.2 365.8h0M800.2 342.3h0M802.6 375h0M802.8 367.3h0M805.7 363.9h0M810.2 369.3h0M813.6 368.6h0M824.1 371.2h0M817.6 359.9h0M822.7 360.2h0M828.4 355.3h0M831.5 349.1h0M814.2 342h0M820.2 336.6h0M802.3 351.9h0M806.8 348.5h0M829.5 330.9h0M833 331.5h0M812.5 355.9h0M809.1 359.3h0M797.7 365.6h0M817.5 351.7h0M819.8 344.8h0M809.3 354.9h0M828.1 345.8h0M808.7 349.8h0M817.3 346h0M809.3 352.6h0M827.4 342.1h0M808 350.4h0M808.8 354.6h0M809.4 349.6h0M817.2 348.7h0M831.4 342.8h0M825.8 345.8h0M815 347.5h0M831.4 343.5h0M825.5 340.1h0M809.5 352.9h0M818.8 345.4h0M822.7 342.1h0M810.6 354.2h0M803.3 356h0M819.1 351.6h0M807.2 358.3h0M819.7 348.2h0M823 349.3h0M817.9 349.2h0M818 350.5h0M816.7 345.2h0M804 358.4h0M830.3 343.2h0M830 343.4h0M811.2 352h0M808.3 354.6h0M825.4 343.5h0M802.4 356.9h0M804.5 358.5h0M818.6 345.3h0M816 349.1h0M811.6 352.1h0M815.1 347.6h0M806 356.5h0M824.7 345.6h0M805.7 354.1h0M820.9 343.3h0M821.7 345.8h0M807.4 355.6h0M811 350.7h0M810.9 350.5h0M804.3 356h0M803.1 353.8h0M811.4 348.6h0M903.5 301.7h0M909.9 287.6h0M914.1 284.4h0M910.4 287.8h0M901.5 300.7h0M913.1 284.8h0M915.9 289.4h0M892.9 301.2h0M893.7 297.6h0M906.1 292.6h0M891.9 301.7h0M902.8 300.7h0M899.6 301.4h0M898.7 298.1h0M907.1 291.1h0M894.1 296.6h0M898.2 297.6h0M890.2 301.4h0M890.7 299.6h0M905.7 296.4h0M904.9 291.4h0M915.9 288h0M895 298.6h0M902.3 292.9h0M907.5 288.5h0M913.4 292.9h0M902.8 292.2h0M899.2 296.4h0M901 299.7h0M889.1 304.6h0M912.6 292.6h0M897 299.7h0M912.7 287.5h0M915.9 288.3h0M889.8 306.3h0M903.2 289.9h0M915.6 296.9h0M908.5 286.1h0M893.3 297.9h0M915 288.8h0M904.4 300.8h0M895.3 298.1h0M898.8 302h0M892.2 305h0M911 297.8h0M906.3 297.2h0M898.4 301.3h0M901.4 301.3h0M824.1 342.1h0M826.1 348.5h0M802.6 357.2h0M812.9 348.1h0M827 339h0M813.6 347.6h0M798.8 365.5h0"/>
<path d="M481.4 555L1037.5 214.7" stroke="#3567f6" stroke-width="3.3" fill="none"/>
<g stroke="#000" stroke-width="2" fill="none">
<path d="M453.9 102.5V735.5H1065"/>
<path d="M449.4 131.2H453.9"/>
<path d="M449.4 323.4H453.9"/>
<path d="M449.4 515.6H453.9"/>
<path d="M449.4 707.4H453.9"/>
<path d="M481.1 735.5V740"/>
<path d="M670.9 735.5V740"/>
<path d="M861 735.5V740"/>
<path d="M1051 735.5V740"/>
</g>
<g font-size="21" text-anchor="end">
<text transform="translate(444.5 138.1) scale(1 1.04)">10</text>
<text transform="translate(444.5 330.3) scale(1 1.04)">0</text>
<text transform="translate(444.5 522.5) scale(1 1.04)">–10</text>
<text transform="translate(444.5 714.3) scale(1 1.04)">–20</text>
</g>
<g font-size="21">
<text transform="translate(458 763.1) scale(1 1.04)">–20</text><text transform="translate(647.8 763.1) scale(1 1.04)">–10</text><text transform="translate(861.2 763.1) scale(1 1.04)" text-anchor="middle">0</text><text transform="translate(1051.1 763.1) scale(1 1.04)" text-anchor="middle">10</text>
<text transform="translate(719.4 793.4) scale(1 1.055)">TOPMed <tspan dx="-1.2" font-family="'Liberation Serif', 'DejaVu Serif', serif" font-style="italic" font-size="22">β</tspan></text>
<text transform="translate(379.8 489.5) rotate(-90) scale(1 1.055)">All of Us <tspan dx="-1.2" font-family="'Liberation Serif', 'DejaVu Serif', serif" font-style="italic" font-size="22">β</tspan></text>
<text transform="translate(1057.8 686) scale(1 1.045)" text-anchor="end">Correlation: 0.98</text>
<text transform="translate(1057.3 713.8) scale(1 1.045)" text-anchor="end"><tspan font-style="italic">n</tspan> = 194</text>
</g>
<path d="M873.9 679.6H894" stroke="#3567f6" stroke-width="3.8" fill="none"/>
</g>
</g>
</svg>
</body></html>
